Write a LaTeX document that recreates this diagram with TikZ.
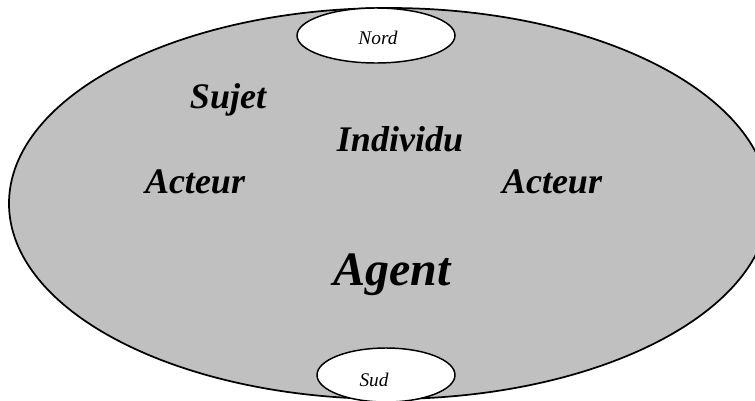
\documentclass[tikz,border=0pt]{standalone}
\usepackage{fontspec}
\setmainfont{Liberation Serif}
\definecolor{silver}{HTML}{C0C0C0}
\begin{document}
\begin{tikzpicture}[x=0.75pt,y=0.75pt,
    role/.style={anchor=base,font=\fontsize{27}{32}\selectfont\bfseries\itshape},
    pole/.style={anchor=base,font=\fontsize{14.5}{17}\selectfont\itshape}]
    \tikzstyle{every node}+=[inner sep=0pt]
    \useasboundingbox (0,0) rectangle (755,-400);
    \clip (0,0) rectangle (755,-400);
    \draw [black, line width=1.3pt, fill=silver] (389,-203.5) ellipse (380 and 195.5);
    \draw [black, line width=1.1pt, fill=white] (376,-35.5) ellipse (79 and 27.5);
    \draw [black, line width=1.1pt, fill=white] (386,-375) ellipse (69 and 27);
    \node [pole] (nord) at (378,-44) {Nord};
    \node [pole] (sud) at (374,-386) {Sud};
    \node [role] (sujet) at (228,-108) {Sujet};
    \node [role] (individu) at (400,-151) {Individu};
    \node [role] (acteurg) at (195,-193) {Acteur};
    \node [role] (acteurd) at (552,-193) {Acteur};
    \node [role, font=\fontsize{36}{42}\selectfont\bfseries\itshape] (agent) at (392,-285) {Agent};
\end{tikzpicture}
\end{document}
